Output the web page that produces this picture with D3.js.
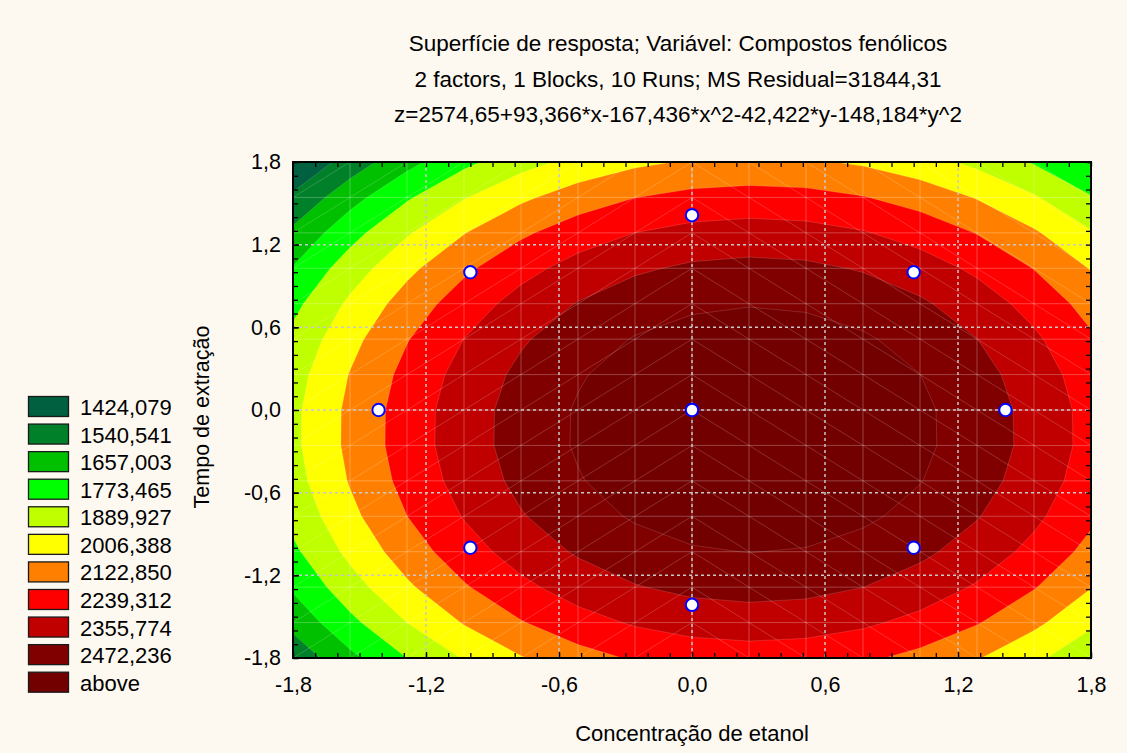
<!DOCTYPE html>
<html>
<head>
<meta charset="utf-8">
<script src="https://cdn.jsdelivr.net/npm/d3@7"></script>
<style>
body{margin:0;background:#fef9f0;}
svg text{font-family:"Liberation Sans", Arial, sans-serif;fill:#000;}
</style>
</head>
<body>
<svg id="chart" width="1127" height="753"></svg>
<script>
// fitted model: z = b0 + b1*x + b2*x^2 + b3*y + b4*y^2
const coefs = [2574.65, 93.366, -167.436, -42.422, -148.184]
// contour levels (upper bound of each colour band)
const levels = [1424.079, 1540.541, 1657.003, 1773.465, 1889.927, 2006.388, 2122.850, 2239.312, 2355.774, 2472.236]
const legend_labels = ["1424,079", "1540,541", "1657,003", "1773,465", "1889,927", "2006,388", "2122,850", "2239,312", "2355,774", "2472,236", "above"]
const band_colors = ["#00603f", "#008028", "#00c000", "#00ff00", "#c0ff00", "#ffff00", "#ff8000", "#ff0000", "#c00000", "#800000", "#720000"]
// design runs (10 runs, 2 centre points)
const runs_x = [-1, 1, -1, 1, -1.414, 1.414, 0, 0, 0, 0]
const runs_y = [-1, -1, 1, 1, 0, 0, -1.414, 1.414, 0, 0]
const major_ticks = [-1.8, -1.2, -0.6, 0, 0.6, 1.2, 1.8]
const title_lines = [
    "Superfície de resposta; Variável: Compostos fenólicos",
    "2 factors, 1 Blocks, 10 Runs; MS Residual=31844,31",
    "z=2574,65+93,366*x-167,436*x^2-42,422*y-148,184*y^2"
]
const x_title = "Concentração de etanol"
const y_title = "Tempo de extração"

var plot = {left: 293, top: 162, right: 1091, bottom: 658}
var svg = d3.select("#chart")

var x = d3.scaleLinear().domain([-1.8, 1.8]).range([plot.left, plot.right])
var y = d3.scaleLinear().domain([-1.8, 1.8]).range([plot.bottom, plot.top])

function surface(a, b){
    return coefs[0] + coefs[1]*a + coefs[2]*a*a + coefs[3]*b + coefs[4]*b*b
}
function fmt(d){
    return d3.format(".1f")(d).replace(".", ",").replace("\u2212", "-")
}

svg.append("defs").append("clipPath").attr("id", "plotclip")
  .append("rect")
    .attr("x", plot.left).attr("y", plot.top)
    .attr("width", plot.right - plot.left).attr("height", plot.bottom - plot.top)

// surface evaluated on the 14 x 14 mesh
var nodes = 15
var step = 3.6 / (nodes - 1)
var values = new Array(nodes * nodes)
for (let j = 0; j < nodes; j++){
    for (let i = 0; i < nodes; i++){
        values[j * nodes + i] = surface(-1.8 + i * step, -1.8 + j * step)
    }
}
var contours = d3.contours().size([nodes, nodes]).thresholds(levels)(values)

// contour grid coords -> pixels (grid value i sits at i + 0.5)
var proj = d3.geoTransform({point: function(cx, cy){
    this.stream.point(x(-1.8 + (cx - 0.5) * step), y(-1.8 + (cy - 0.5) * step))
}})
var path = d3.geoPath(proj)

var area = svg.append("g").attr("clip-path", "url(#plotclip)")
area.append("rect")
    .attr("x", plot.left).attr("y", plot.top)
    .attr("width", plot.right - plot.left).attr("height", plot.bottom - plot.top)
    .attr("fill", band_colors[0])
area.selectAll("path.band")
    .data(contours)
  .enter().append("path")
    .attr("class", "band")
    .attr("d", path)
    .attr("fill", function(d, i){ return band_colors[i + 1] })
    .attr("stroke", "rgba(255,255,255,0.18)")
    .attr("stroke-width", 0.8)

// faint mesh lines
var mesh = d3.range(nodes).map(function(i){ return -1.8 + i * step })
var mesh_g = area.append("g").attr("stroke", "rgba(255,255,255,0.26)").attr("stroke-width", 1)
mesh_g.selectAll("line.mv").data(mesh).enter().append("line")
    .attr("x1", d => x(d)).attr("x2", d => x(d))
    .attr("y1", plot.top).attr("y2", plot.bottom)
mesh_g.selectAll("line.mh").data(mesh).enter().append("line")
    .attr("y1", d => y(d)).attr("y2", d => y(d))
    .attr("x1", plot.left).attr("x2", plot.right)
var cells = []
for (let i = 0; i < nodes - 1; i++){
    for (let j = 0; j < nodes - 1; j++){
        cells.push([mesh[i], mesh[j]])
    }
}
mesh_g.selectAll("line.md").data(cells).enter().append("line")
    .attr("stroke-width", 0.7)
    .attr("x1", d => x(d[0])).attr("x2", d => x(d[0] + step))
    .attr("y1", d => d[0] + step / 2 < 0 ? y(d[1]) : y(d[1] + step))
    .attr("y2", d => d[0] + step / 2 < 0 ? y(d[1] + step) : y(d[1]))

// dashed grid at major ticks
var inner = major_ticks.slice(1, -1)
var grid = svg.append("g").attr("stroke", "#c8c8c8").attr("stroke-width", 1.5).attr("stroke-dasharray", "3,3")
grid.selectAll("line.gv").data(inner).enter().append("line")
    .attr("x1", d => x(d)).attr("x2", d => x(d))
    .attr("y1", plot.top).attr("y2", plot.bottom)
grid.selectAll("line.gh").data(inner).enter().append("line")
    .attr("y1", d => y(d)).attr("y2", d => y(d))
    .attr("x1", plot.left).attr("x2", plot.right)

// design points
svg.append("g").selectAll("circle")
    .data(runs_x)
  .enter().append("circle")
    .attr("cx", d => x(d))
    .attr("cy", (d, i) => y(runs_y[i]))
    .attr("r", 6.2)
    .attr("fill", "#fff")
    .attr("stroke", "#0000ff")
    .attr("stroke-width", 2)

// axes, ticks inward on all four sides
var minor_ticks = d3.range(-18, 19).map(d => d / 10)
function styleAxis(g){
    g.select(".domain").remove()
    g.selectAll(".tick line").attr("stroke", "#000").attr("stroke-width", 1.3)
    g.attr("font-size", 21.5).attr("font-family", null)
}
svg.append("g").attr("transform", "translate(0," + plot.bottom + ")")
    .call(d3.axisBottom(x).tickValues(minor_ticks).tickSize(-5).tickFormat("")).call(styleAxis)
svg.append("g").attr("transform", "translate(0," + plot.bottom + ")")
    .call(d3.axisBottom(x).tickValues(major_ticks).tickSize(-6).tickPadding(19).tickFormat(fmt)).call(styleAxis)
svg.append("g").attr("transform", "translate(0," + plot.top + ")")
    .call(d3.axisTop(x).tickValues(minor_ticks).tickSize(-5).tickFormat("")).call(styleAxis)
svg.append("g").attr("transform", "translate(" + plot.left + ",0)")
    .call(d3.axisLeft(y).tickValues(minor_ticks).tickSize(-5).tickFormat("")).call(styleAxis)
svg.append("g").attr("transform", "translate(" + plot.left + ",0)")
    .call(d3.axisLeft(y).tickValues(major_ticks).tickSize(-6).tickPadding(12).tickFormat(fmt)).call(styleAxis)
svg.append("g").attr("transform", "translate(" + plot.right + ",0)")
    .call(d3.axisRight(y).tickValues(minor_ticks).tickSize(-5).tickFormat("")).call(styleAxis)

svg.append("rect")
    .attr("x", plot.left).attr("y", plot.top)
    .attr("width", plot.right - plot.left).attr("height", plot.bottom - plot.top)
    .attr("fill", "none").attr("stroke", "#000").attr("stroke-width", 2)

// titles
svg.selectAll("text.title")
    .data(title_lines)
  .enter().append("text")
    .attr("class", "title")
    .attr("x", 678)
    .attr("y", (d, i) => 51 + i * 35.5)
    .attr("text-anchor", "middle")
    .attr("font-size", 22.5)
    .text(d => d)
svg.append("text")
    .attr("x", (plot.left + plot.right) / 2).attr("y", 741)
    .attr("text-anchor", "middle").attr("font-size", 22)
    .text(x_title)
svg.append("text")
    .attr("transform", "translate(209,417) rotate(-90)")
    .attr("text-anchor", "middle").attr("font-size", 21.5)
    .text(y_title)

// legend
var legend = svg.append("g")
legend.selectAll("rect")
    .data(legend_labels)
  .enter().append("rect")
    .attr("x", 28.5)
    .attr("y", (d, i) => 396.5 + i * 27.57)
    .attr("width", 40).attr("height", 20)
    .attr("fill", (d, i) => band_colors[i])
    .attr("stroke", "#1a1a1a").attr("stroke-width", 1.3)
legend.selectAll("text")
    .data(legend_labels)
  .enter().append("text")
    .attr("x", 80)
    .attr("y", (d, i) => 415 + i * 27.57)
    .attr("font-size", 22)
    .text(d => d)
</script>
</body>
</html>
